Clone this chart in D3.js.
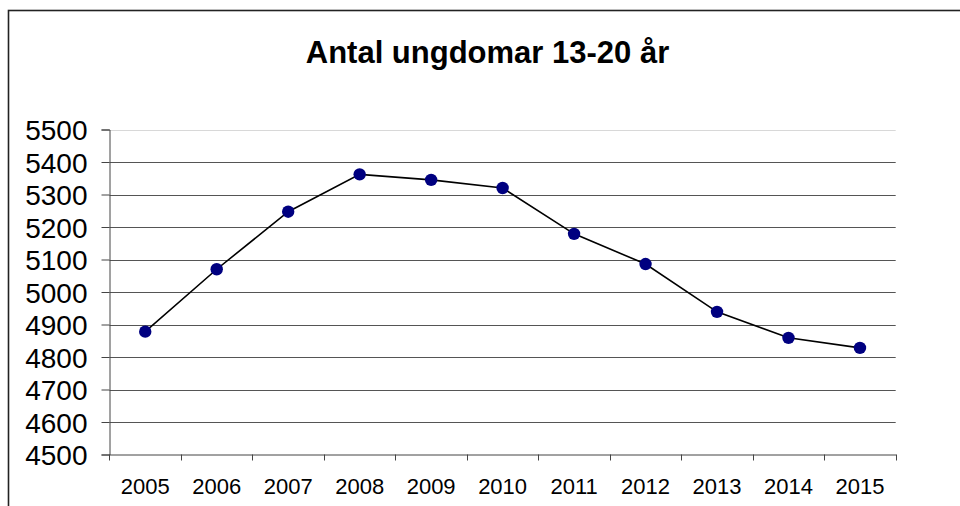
<!DOCTYPE html>
<html>
<head>
<meta charset="utf-8">
<script src="https://cdn.jsdelivr.net/npm/d3@7"></script>
<style>
  html, body { margin: 0; padding: 0; background: #fff; }
  svg { display: block; }
  text { font-family: "Liberation Sans", Arial, sans-serif; fill: #000; }
</style>
</head>
<body>
<svg id="chart" width="960" height="506"></svg>
<script>
const title = "Antal ungdomar 13-20 år";
const years = ["2005","2006","2007","2008","2009","2010","2011","2012","2013","2014","2015"];
const values = [4878, 5070, 5247, 5362, 5345, 5320, 5179, 5086, 4939, 4859, 4828];
const yTicks = [4500, 4600, 4700, 4800, 4900, 5000, 5100, 5200, 5300, 5400, 5500];

const svg = d3.select("#chart");
const plot = { left: 109.5, right: 895.7, top: 129.5, bottom: 454.5 };

// outer chart border (extends past the right and bottom of the view)
svg.append("rect")
  .attr("x", 8.5).attr("y", 10.5)
  .attr("width", 980).attr("height", 600)
  .attr("fill", "none").attr("stroke", "#222").attr("stroke-width", 1.6);

// title
svg.append("text")
  .attr("x", 487.5).attr("y", 63)
  .attr("text-anchor", "middle")
  .style("font-weight", "bold").style("font-size", "31px")
  .text(title);

const x = d3.scaleBand().domain(years).range([plot.left, plot.right]).padding(0);
const y = d3.scaleLinear().domain([4500, 5500]).range([plot.bottom, plot.top]);

// gridlines
svg.append("g").selectAll("line").data(yTicks.filter(t => t !== 4500)).join("line")
  .attr("x1", plot.left).attr("x2", plot.right)
  .attr("y1", d => Math.round(y(d)) + 0.5).attr("y2", d => Math.round(y(d)) + 0.5)
  .attr("stroke", d => d === 5500 ? "#d8d8d8" : "#555").attr("stroke-width", 1);

// y axis
const yAxis = svg.append("g").attr("transform", `translate(${plot.left},0)`)
  .call(d3.axisLeft(y).tickValues(yTicks).tickSize(8).tickPadding(14).tickFormat(d3.format("d")));
yAxis.select(".domain").attr("stroke", "#444");
yAxis.selectAll(".tick line").attr("stroke", "#444");
yAxis.selectAll("text").style("font-size", "28px")
  .attr("dy", "0.36em").style("font-family", "'Liberation Sans', Arial, sans-serif");

// x axis: labels centred in categories
const xAxis = svg.append("g").attr("transform", `translate(0,${plot.bottom})`)
  .call(d3.axisBottom(x).tickSize(0).tickPadding(24));
xAxis.select(".domain").attr("stroke", "#444");
xAxis.selectAll("text").style("font-size", "22px")
  .style("font-family", "'Liberation Sans', Arial, sans-serif");

// category boundary ticks
const bounds = years.map(d => x(d)).concat([x(years[years.length - 1]) + x.bandwidth()]);
svg.append("g").selectAll("line").data(bounds).join("line")
  .attr("x1", d => Math.round(d) + 0.5).attr("x2", d => Math.round(d) + 0.5)
  .attr("y1", plot.bottom).attr("y2", plot.bottom + 6)
  .attr("stroke", "#444");

// line
const line = d3.line()
  .x((d, i) => x(years[i]) + x.bandwidth() / 2)
  .y(d => y(d));
svg.append("path").datum(values)
  .attr("d", line).attr("fill", "none")
  .attr("stroke", "#000").attr("stroke-width", 1.6);

// markers
svg.append("g").selectAll("circle").data(values).join("circle")
  .attr("cx", (d, i) => x(years[i]) + x.bandwidth() / 2)
  .attr("cy", d => y(d))
  .attr("r", 6.2)
  .attr("fill", "#000080");
</script>
</body>
</html>
